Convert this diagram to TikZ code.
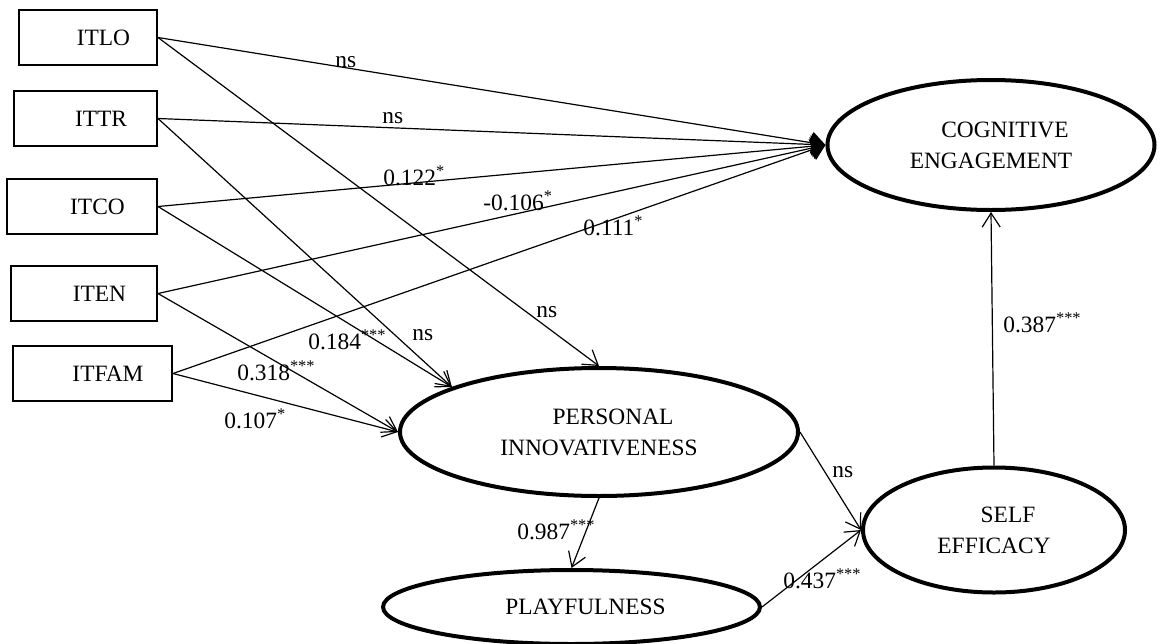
\documentclass[tikz,border=0pt]{standalone}
\usepackage{fontspec}
\setmainfont{Liberation Serif}
\usetikzlibrary{arrows.meta,shapes.geometric}

\begin{document}
\begin{tikzpicture}[x=0.5pt,y=-0.5pt,
    font=\fontsize{11.7}{15.5}\selectfont,
    itembox/.style={draw=black, line width=1pt, minimum height=27.5pt, inner sep=0pt,
        execute at begin node={\hspace*{15.5pt}}},
    construct/.style={draw=black, ellipse, line width=2pt, align=center, inner sep=0pt},
    link/.style={-{Straight Barb[length=7pt,width=9pt]}, line width=0.6pt},
    cogl/.style={-{Triangle[length=7pt,width=11pt]}, line width=0.6pt},
    coef/.style={anchor=base west, inner sep=0pt}]

            \useasboundingbox (0,0) rectangle (1168,643);

            %% observed items
            \node[itembox, minimum width=69pt]   (itlo)  at (88,37.5)   {ITLO};
            \node[itembox, minimum width=71.5pt] (ittr)  at (85.5,118.5) {ITTR};
            \node[itembox, minimum width=75pt]   (itco)  at (82,206.5)  {ITCO};
            \node[itembox, minimum width=73pt]   (iten)  at (84,293.5)  {ITEN};
            \node[itembox, minimum width=79.5pt] (itfam) at (92.5,373.5) {ITFAM};

            %% constructs
            \node[construct, minimum width=163.5pt, minimum height=65pt] (cog)  at (991,145)
                {\hspace*{14pt}COGNITIVE\\ENGAGEMENT};
            \node[construct, minimum width=199pt, minimum height=64pt]   (pers) at (599,432)
                {\hspace*{14pt}PERSONAL\\INNOVATIVENESS};
            \node[construct, minimum width=131pt, minimum height=62.5pt] (self) at (994,530)
                {\hspace*{14pt}SELF\\EFFICACY};
            \node[construct, minimum width=188.5pt, minimum height=37pt] (play) at (571.5,607)
                {\raisebox{-2.5pt}{\hspace*{14pt}PLAYFULNESS}};

            %% paths to cognitive engagement
            \draw[cogl] (itlo.east)  -- (cog.west);
            \draw[cogl] (ittr.east)  -- (cog.west);
            \draw[cogl] (itco.east)  -- (cog.west);
            \draw[cogl] (iten.east)  -- (cog.west);
            \draw[cogl] (itfam.east) -- (cog.west);

            %% paths to personal innovativeness
            \draw[link] (itlo.east)  -- (pers.north);
            \draw[link] (ittr.east)  -- (pers.163);
            \draw[link] (itco.east)  -- (pers.163);
            \draw[link] (iten.east)  -- (pers.west);
            \draw[link] (itfam.east) -- (pers.west);

            %% inner model
            \draw[link] (pers.south) -- (play.north);
            \draw[link] (pers.east)  -- (self.west);
            \draw[link] (play.east)  -- (self.west);
            \draw[link] (self.north) -- (cog.south);

            %% coefficients
            \node[coef] (c1)  at (335,67)  {ns};
            \node[coef] (c2)  at (382,123) {ns};
            \node[coef] (c3)  at (383,185) {0.122\textsuperscript{*}};
            \node[coef] (c4)  at (483,210) {-0.106\textsuperscript{*}};
            \node[coef] (c5)  at (583,235) {0.111\textsuperscript{*}};
            \node[coef] (c6)  at (536,317) {ns};
            \node[coef] (c7)  at (412,340) {ns};
            \node[coef] (c8)  at (308,349) {0.184\textsuperscript{***}};
            \node[coef] (c9)  at (237,380) {0.318\textsuperscript{***}};
            \node[coef] (c10) at (224,428) {0.107\textsuperscript{*}};
            \node[coef] (c11) at (517,539) {0.987\textsuperscript{***}};
            \node[coef] (c12) at (832,477) {ns};
            \node[coef] (c13) at (783,588) {0.437\textsuperscript{***}};
            \node[coef] (c14) at (1003,332) {0.387\textsuperscript{***}};

        \end{tikzpicture}
\end{document}
